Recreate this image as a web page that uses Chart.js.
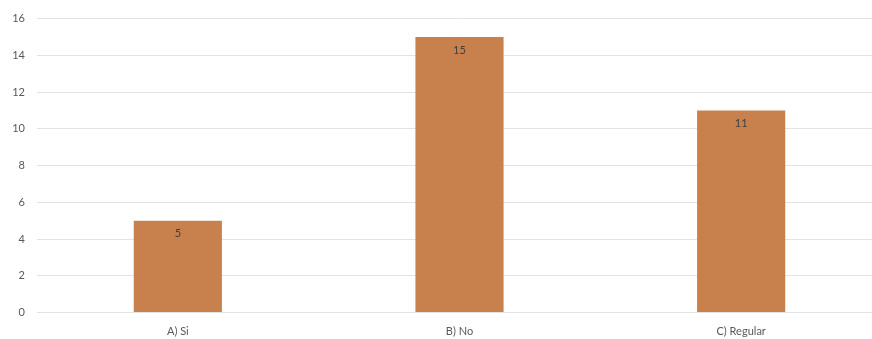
<!DOCTYPE html>
<html>
<head>
<meta charset="utf-8">
<script src="https://cdn.jsdelivr.net/npm/chart.js@4"></script>
<style>
  html, body { margin: 0; padding: 0; background: #fff; overflow: hidden; }
  #wrap { position: absolute; left: 0; top: 0; width: 882px; height: 339px; }
</style>
</head>
<body>
<div id="wrap"><canvas id="myChart"></canvas></div>
<script>
const categories = ['A) Si', 'B) No', 'C) Regular'];
const values = [5, 15, 11];
const yTicks = [0, 2, 4, 6, 8, 10, 12, 14, 16];

// value labels just inside the top of each bar
const barLabels = {
    id: 'barLabels',
    afterDatasetsDraw(chart) {
        const ctx = chart.ctx;
        const meta = chart.getDatasetMeta(0);
        ctx.save();
        ctx.font = '11px Lato, "Open Sans", sans-serif';
        ctx.fillStyle = '#404040';
        ctx.textAlign = 'center';
        ctx.textBaseline = 'middle';
        meta.data.forEach((bar, i) => {
            ctx.fillText(values[i], bar.x, bar.y + 13);
        });
        ctx.restore();
    }
};

const config = {
    type: 'bar',
    data: {
        labels: categories,
        datasets: [{
            data: values,
            backgroundColor: '#c8814c',
            borderColor: '#d49262',
            borderWidth: 0,
            categoryPercentage: 1,
            barPercentage: 0.313
        }]
    },
    options: {
        responsive: true,
        maintainAspectRatio: false,
        animation: false,
        layout: { padding: { top: 17, right: 0, left: 0, bottom: 0 } },
        plugins: {
            legend: { display: false },
            tooltip: { enabled: false }
        },
        scales: {
            x: {
                grid: { display: false },
                border: { display: false },
                ticks: {
                    color: '#595959',
                    font: { family: 'Lato, "Open Sans", sans-serif', size: 11 },
                    padding: 4
                },
                afterFit(scale) { scale.height = 26.5; }
            },
            y: {
                min: 0,
                max: 16,
                afterBuildTicks(scale) { scale.ticks = yTicks.map(v => ({ value: v })); },
                grid: { color: '#e3e3e3', lineWidth: 1, drawTicks: false },
                border: { display: false },
                ticks: {
                    color: '#595959',
                    font: { family: 'Lato, "Open Sans", sans-serif', size: 11 },
                    padding: 12
                },
                afterFit(scale) { scale.width = 37; }
            }
        }
    },
    plugins: [barLabels]
};

const myChart = new Chart(document.getElementById('myChart'), config);
</script>
</body>
</html>
